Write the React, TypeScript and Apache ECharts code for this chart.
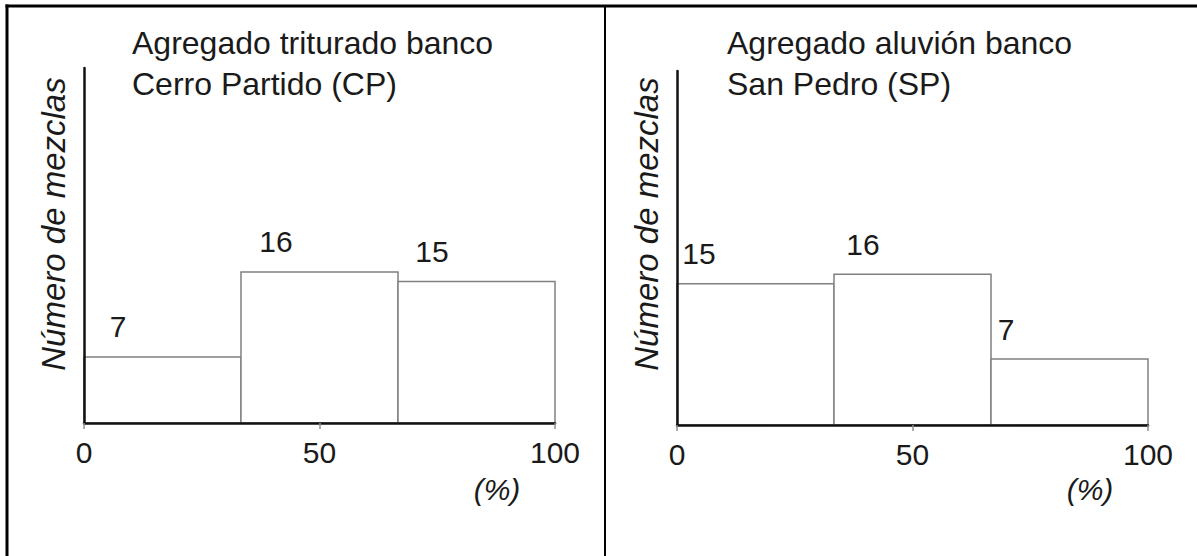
import React, { useEffect, useRef } from "react";
import * as echarts from "echarts";

// Bin edges of the percentage axis (three equal thirds)
const binEdges = [0, 33.33, 66.67, 100];
// Number of mixes per bin
const cpCounts = [7, 16, 15]; // Cerro Partido (CP)
const spCounts = [15, 16, 7]; // San Pedro (SP)

const titleCP = "Agregado triturado banco\nCerro Partido (CP)";
const titleSP = "Agregado aluvión banco\nSan Pedro (SP)";
const yName = "Número de mezclas";
const xName = "(%)";

const FONT = "'Liberation Sans', Arial, sans-serif";
const TXT = "#1a1a1a";

// horizontal placement of each value label from the left edge of its bar (px)
const labelShiftCP = [34, 35, 34];
const labelShiftSP = [22, 29, 15];

function buildData(counts: number[]) {
  return counts.map((c, i) => [binEdges[i], binEdges[i + 1], c]);
}

const makeRenderItem = (shifts: number[]) => (params: any, api: any) => {
  const x0 = api.value(0);
  const x1 = api.value(1);
  const v = api.value(2);
  const p0 = api.coord([x0, v]);
  const p1 = api.coord([x1, 0]);
  return {
    type: "group",
    children: [
      {
        type: "rect",
        shape: { x: p0[0], y: p0[1], width: p1[0] - p0[0], height: p1[1] - p0[1] },
        style: { fill: "#ffffff", stroke: "#808080", lineWidth: 1.5 },
      },
      {
        type: "text",
        x: p0[0] + shifts[params.dataIndex],
        y: p0[1] - 30,
        style: {
          text: String(v),
          fontSize: 30,
          fontFamily: FONT,
          fill: TXT,
          align: "center",
          verticalAlign: "middle",
        },
      },
    ],
  };
};

function xAxisCfg(gridIndex: number) {
  return {
    type: "value",
    gridIndex,
    min: 0,
    max: 100,
    interval: 50,
    z: 5,
    axisLine: { show: true, onZero: false, lineStyle: { color: "#111", width: 2.5 } },
    axisTick: { show: true, length: 6, lineStyle: { color: "#909090", width: 1.5 } },
    axisLabel: {
      show: true,
      margin: 14,
      fontSize: 30,
      fontFamily: FONT,
      color: TXT,
      showMinLabel: true,
      showMaxLabel: true,
    },
    splitLine: { show: false },
  };
}

function yAxisCfg(gridIndex: number) {
  return {
    type: "value",
    gridIndex,
    min: 0,
    max: 37.6,
    z: 5,
    axisLine: { show: true, lineStyle: { color: "#111", width: 2.5 } },
    axisTick: { show: false },
    axisLabel: { show: false },
    splitLine: { show: false },
  };
}

export default function App() {
  const ref = useRef<HTMLDivElement>(null);
  useEffect(() => {
    if (!ref.current) return;
    const chart = echarts.init(ref.current, null, { renderer: "svg" });
    const titleStyle = { fontSize: 32, fontFamily: FONT, color: TXT, fontWeight: "normal", lineHeight: 41 };
    const yNameStyle = { text: yName, fontSize: 33, fontFamily: FONT, fontStyle: "italic", fill: TXT, align: "center", verticalAlign: "middle" };
    const xNameStyle = { text: xName, fontSize: 30, fontFamily: FONT, fontStyle: "italic", fill: TXT, align: "center", verticalAlign: "middle" };
    chart.setOption({
      animation: false,
      backgroundColor: "#ffffff",
      title: [
        { text: titleCP, left: 132, top: 22, padding: 0, textStyle: titleStyle },
        { text: titleSP, left: 727, top: 22, padding: 0, textStyle: titleStyle },
      ],
      grid: [
        { left: 84, width: 471, top: 68, bottom: 133 },
        { left: 677, width: 471, top: 71, bottom: 131 },
      ],
      xAxis: [xAxisCfg(0), xAxisCfg(1)],
      yAxis: [yAxisCfg(0), yAxisCfg(1)],
      series: [
        { type: "custom", xAxisIndex: 0, yAxisIndex: 0, renderItem: makeRenderItem(labelShiftCP), data: buildData(cpCounts), z: 2 },
        { type: "custom", xAxisIndex: 1, yAxisIndex: 1, renderItem: makeRenderItem(labelShiftSP), data: buildData(spCounts), z: 2 },
      ],
      graphic: [
        { type: "line", shape: { x1: 5.5, y1: 6, x2: 1197, y2: 6 }, style: { stroke: "#000", lineWidth: 3 } },
        { type: "line", shape: { x1: 7, y1: 4.5, x2: 7, y2: 556 }, style: { stroke: "#000", lineWidth: 3 } },
        { type: "line", shape: { x1: 605, y1: 6, x2: 605, y2: 556 }, style: { stroke: "#000", lineWidth: 2 } },
        { type: "text", x: 53, y: 224, rotation: Math.PI / 2, style: yNameStyle },
        { type: "text", x: 646, y: 224, rotation: Math.PI / 2, style: yNameStyle },
        { type: "text", x: 497, y: 489, style: xNameStyle },
        { type: "text", x: 1090, y: 489, style: xNameStyle },
      ],
    });
    return () => chart.dispose();
  }, []);
  return (
    <div
      ref={ref}
      style={{ position: "absolute", left: 0, top: 0, width: 1197, height: 556 }}
    />
  );
}
